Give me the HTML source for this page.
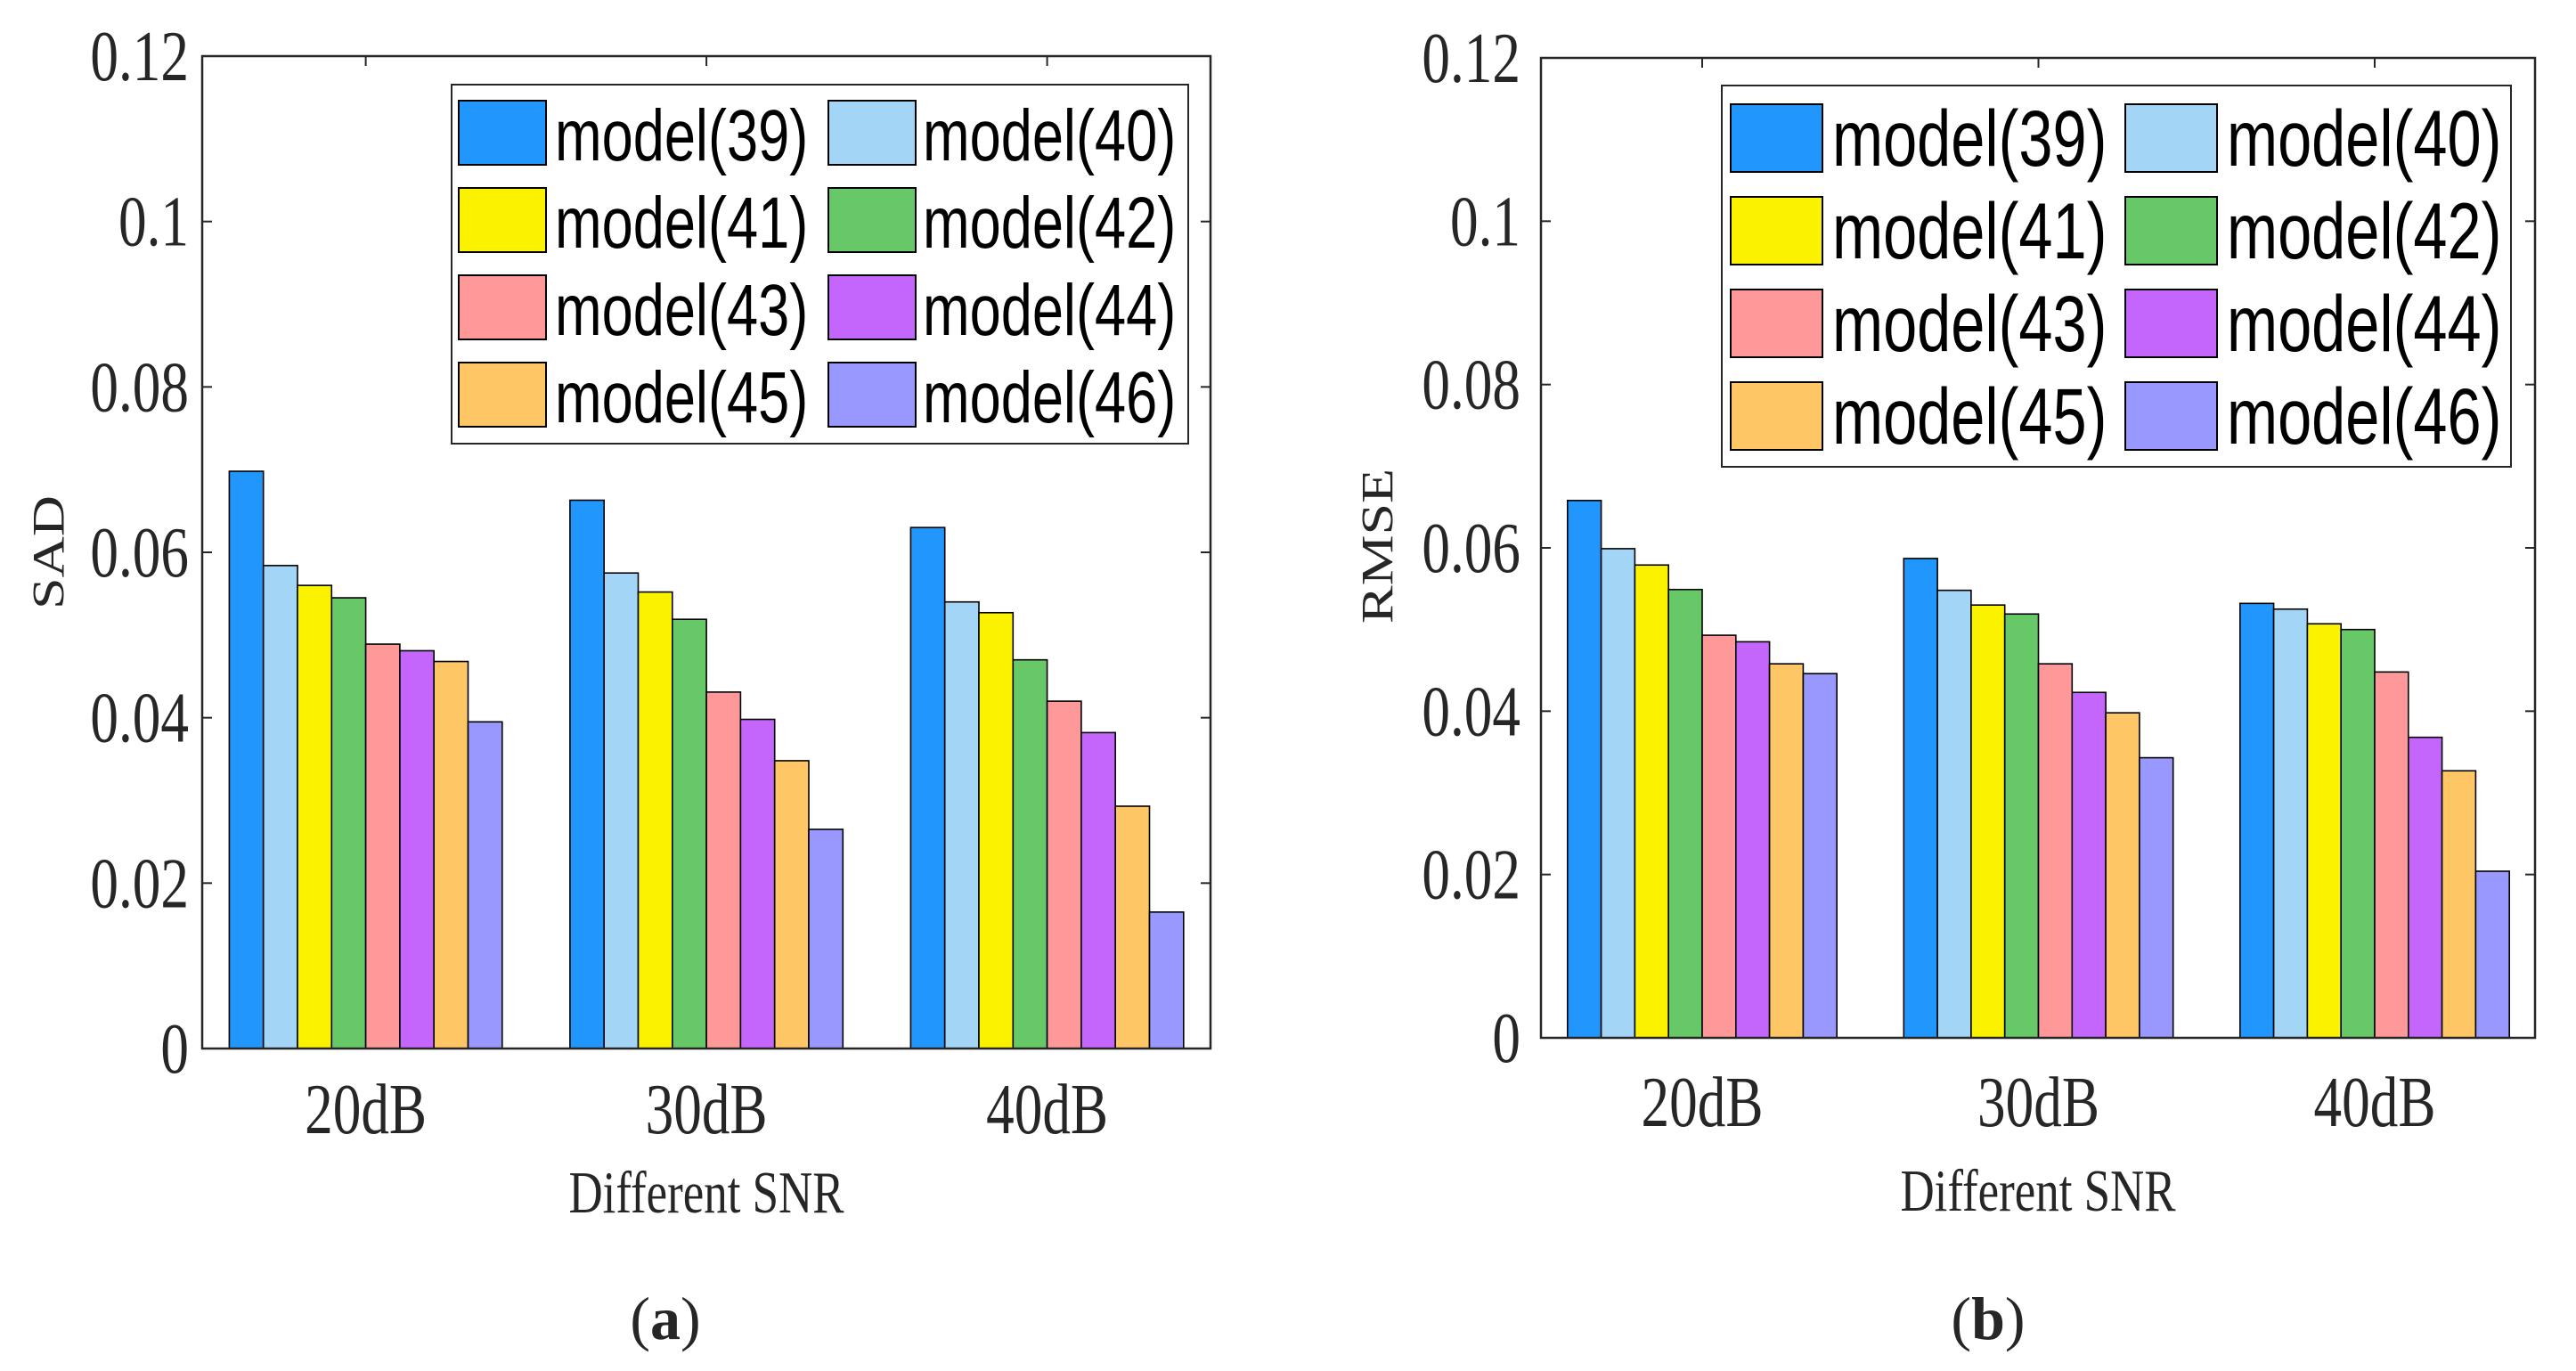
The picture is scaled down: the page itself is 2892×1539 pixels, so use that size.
<!DOCTYPE html>
<html><head><meta charset="utf-8">
<style>
html,body{margin:0;padding:0;background:#fff;}
svg{display:block;}
.tm{font-family:"Liberation Serif",serif;fill:#262626;}
.ar{font-family:"Liberation Sans",sans-serif;fill:#000;}
</style></head>
<body>
<svg id="fig" width="2892" height="1539" viewBox="0 0 2892 1539" xmlns="http://www.w3.org/2000/svg"></svg>
<script>
const categories = ["20dB","30dB","40dB"];
const seriesNames = ["model(39)","model(40)","model(41)","model(42)","model(43)","model(44)","model(45)","model(46)"];
const colors = ["#2196fc","#a3d5f7","#fbf200","#66c866","#ff9999","#c466fc","#ffc666","#9898ff"];
const yTicks = [0,0.02,0.04,0.06,0.08,0.1,0.12];
const yTickLabels = ["0","0.02","0.04","0.06","0.08","0.1","0.12"];
// SAD values per series [20dB,30dB,40dB]
const sadValues = [
 [0.0698,0.0663,0.0630],
 [0.0584,0.0575,0.0540],
 [0.0560,0.0552,0.0527],
 [0.0545,0.0519,0.0470],
 [0.0489,0.0431,0.0420],
 [0.0481,0.0398,0.0382],
 [0.0468,0.0348,0.0293],
 [0.0395,0.0265,0.0165]
];
// RMSE values per series [20dB,30dB,40dB]
const rmseValues = [
 [0.0658,0.0587,0.0532],
 [0.0599,0.0548,0.0525],
 [0.0579,0.0530,0.0507],
 [0.0549,0.0519,0.0500],
 [0.0493,0.0458,0.0448],
 [0.0485,0.0423,0.0368],
 [0.0458,0.0398,0.0327],
 [0.0446,0.0343,0.0204]
];

const NS="http://www.w3.org/2000/svg";
const svg=document.getElementById('fig');
function mk(tag,attrs,parent){const e=document.createElementNS(NS,tag);for(const k in attrs)e.setAttribute(k,attrs[k]);(parent||svg).appendChild(e);return e;}

function drawChart(cfg){
  const g=mk('g',{});
  
  
  const yMax=0.12;
  const yS=v=>cfg.bottom-(v/yMax)*(cfg.bottom-cfg.top);
  const groupC=i=>cfg.c0+i*cfg.gs;
  const bw=cfg.bw;
  // bars
  for(let s=0;s<cfg.values.length;s++){
    for(let c=0;c<categories.length;c++){
      const v=cfg.values[s][c];
      const x=groupC(c)-4*bw+s*bw;
      const r=mk('rect',{x:x,y:yS(v),width:bw,height:yS(0)-yS(v),fill:colors[s],stroke:'#000','stroke-width':1.6},g);
      
      
    }
  }
  // axes box
  const box=mk('rect',{x:cfg.left,y:cfg.top,width:cfg.right-cfg.left,height:cfg.bottom-cfg.top,fill:'none',stroke:'#262626','stroke-width':2.5},g);
  
  
  // y ticks
  for(let i=0;i<yTicks.length;i++){
    const y=yS(yTicks[i]);
    mk('line',{x1:cfg.left,x2:cfg.left+11,y1:y,y2:y,stroke:'#262626','stroke-width':2},g);
    mk('line',{x1:cfg.right,x2:cfg.right-11,y1:y,y2:y,stroke:'#262626','stroke-width':2},g);
    const t=mk('text',{class:'tm','font-size':80,'text-anchor':'end',transform:`translate(${cfg.tickR},${y+27}) scale(0.79,1)`},g);
    t.textContent=yTickLabels[i];
    
    
  }
  // x ticks & labels
  for(let c=0;c<categories.length;c++){
    const x=groupC(c);
    mk('line',{x1:x,x2:x,y1:cfg.top,y2:cfg.top+11,stroke:'#262626','stroke-width':2},g);
    const t=mk('text',{class:'tm','font-size':80,'text-anchor':'middle',transform:`translate(${x},${cfg.xlabY}) scale(0.79,1)`},g);
    t.textContent=categories[c];
    
    
  }
  const xt=mk('text',{class:'tm','font-size':67,'text-anchor':'middle',transform:`translate(${cfg.xtX},${cfg.xtY}) scale(0.79,1)`},g);
  xt.textContent='Different SNR';
  
  
  const yt=mk('text',{class:'tm','font-size':64,'text-anchor':'middle',transform:`translate(${cfg.ytX},${cfg.ytY}) rotate(-90) scale(1,0.79) translate(0,22)`},g);
  yt.textContent=cfg.ylabel;
  
  
  const cap=mk('text',{class:'tm','font-size':68,'text-anchor':'middle',x:cfg.capX,y:1503,fill:'#000'},g);
  cap.innerHTML='(<tspan font-weight="bold">'+cfg.cap+'</tspan>)';
  
  
  // legend
  const L=cfg.leg;
  const lg=mk('g',{},g);
  
  
  mk('rect',{x:L.x,y:L.y,width:L.w,height:L.h,fill:'#fff',stroke:'#262626','stroke-width':2},lg);
  for(let s=0;s<seriesNames.length;s++){
    const col=s%2,row=Math.floor(s/2);
    const sx=L.sx[col],sy=L.sy+row*L.rs;
    const e=mk('g',{},lg);
    
    
    mk('rect',{x:sx,y:sy,width:L.sw,height:L.sh,fill:colors[s],stroke:'#000','stroke-width':2},e);
    const t=mk('text',{class:'ar','font-size':L.fs,transform:`translate(${L.tx[col]},${sy+L.tb}) scale(0.77,1)`},e);
    t.textContent=seriesNames[s];
  }
}

drawChart({name:'sad-chart',values:sadValues,left:227,right:1359,top:63,bottom:1177,
  c0:410.6,gs:382.5,bw:38.3,tickR:212,xlabY:1272,xtX:793,xtY:1361,ytX:54,ytY:620,ylabel:'SAD',capX:747,cap:'a',
  leg:{x:507,y:95,w:827,h:403,sx:[515,930],sy:113,rs:98,sw:98,sh:72,tx:[623,1036],tb:67,fs:82}});
drawChart({name:'rmse-chart',values:rmseValues,left:1730,right:2846,top:65,bottom:1165,
  c0:1911,gs:377.5,bw:37.8,tickR:1707,xlabY:1264,xtX:2288,xtY:1359,ytX:1546,ytY:613,ylabel:'RMSE',capX:2232,cap:'b',
  leg:{x:1933,y:96,w:886,h:428,sx:[1943,2386],sy:117,rs:104,sw:103,sh:76,tx:[2057,2500],tb:69,fs:89}});
</script>
</body></html>
